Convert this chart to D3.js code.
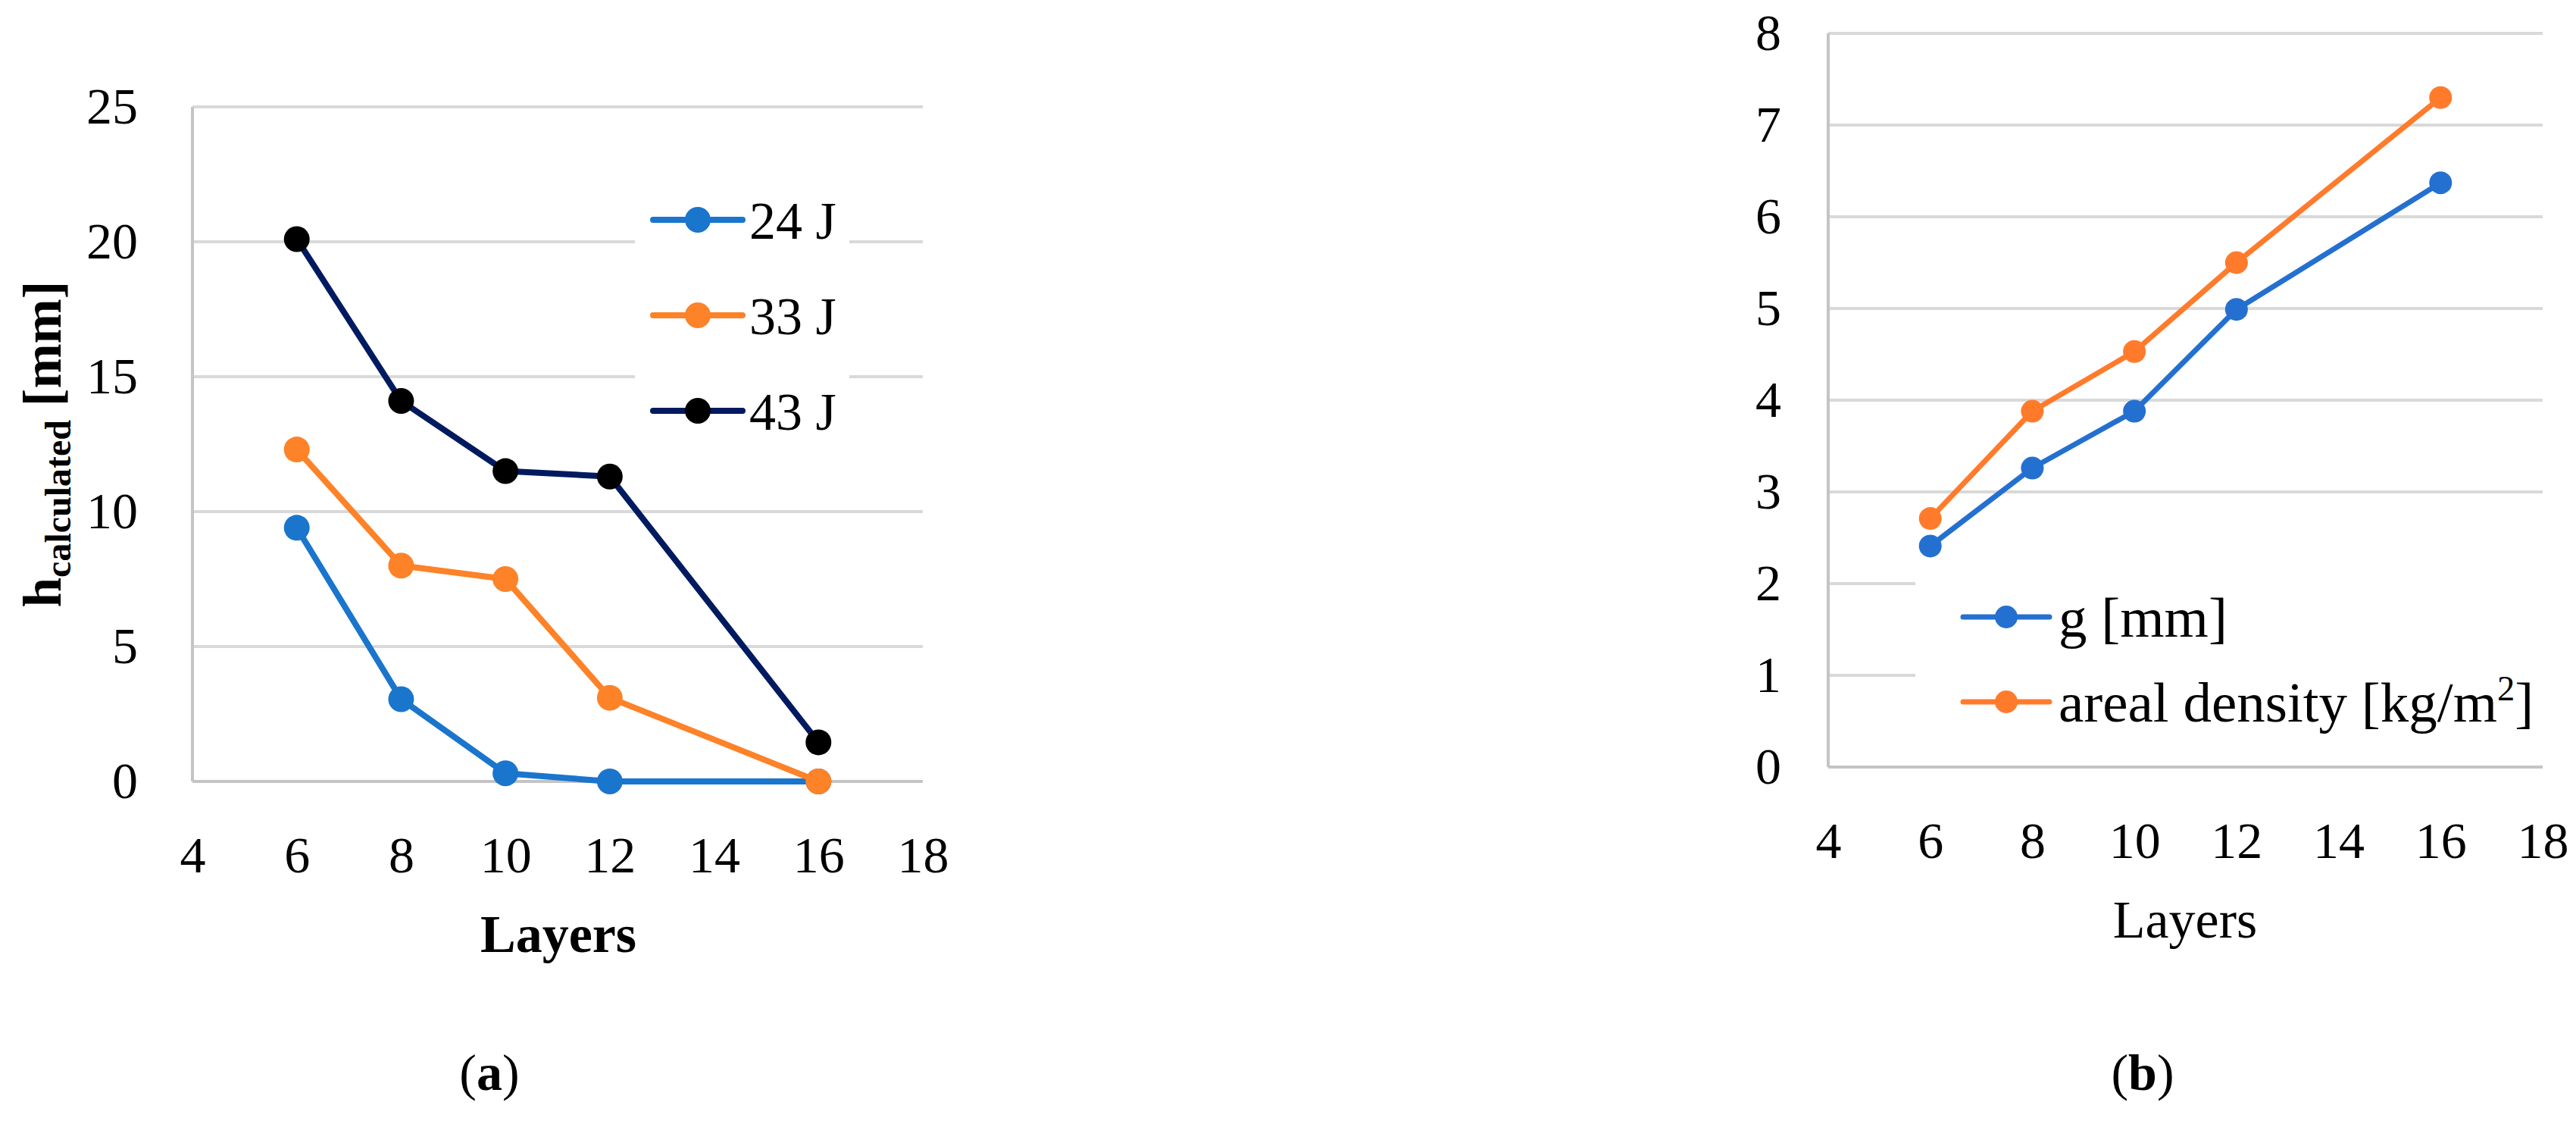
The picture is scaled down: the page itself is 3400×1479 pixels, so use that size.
<!DOCTYPE html>
<html><head><meta charset="utf-8">
<script src="https://cdn.jsdelivr.net/npm/d3@7/dist/d3.min.js"></script>
<style>
html,body{margin:0;padding:0;background:#fff;}
svg{display:block;}
text{font-family:"Liberation Serif","Times New Roman",serif;fill:#000;}
</style></head>
<body>
<svg id="c" width="3400" height="1479"></svg>
<script>
// ---- data ----
const layers = [6, 8, 10, 12, 16];
const h24J = [9.4, 3.05, 0.3, 0, 0];
const h33J = [12.3, 8.0, 7.5, 3.1, 0];
const h43J = [20.1, 14.1, 11.5, 11.3, 1.45];
const gMM = [2.41, 3.26, 3.88, 4.99, 6.37];
const arealDensity = [2.71, 3.88, 4.53, 5.50, 7.30];
const xTicks = [4, 6, 8, 10, 12, 14, 16, 18];
const yTicksA = [0, 5, 10, 15, 20, 25];
const yTicksB = [0, 1, 2, 3, 4, 5, 6, 7, 8];
const seriesA = [
  {name: "24 J", values: h24J, line: "#1a75cc", dot: "#1a75cc"},
  {name: "33 J", values: h33J, line: "#fd8228", dot: "#fd8228"},
  {name: "43 J", values: h43J, line: "#001a60", dot: "#000000"}
];
const seriesB = [
  {name: "g [mm]", values: gMM, line: "#2470d0", dot: "#2470d0"},
  {name: "areal density [kg/m", sup: "2", tail: "]", values: arealDensity, line: "#ff7b2b", dot: "#ff7b2b"}
];

const svg = d3.select("#c");
const GRID = "#d9d9d9", AX = "#c4c4c4";

function panel(opts) {
  const x = d3.scaleLinear().domain([4, 18]).range(opts.xr);
  const y = d3.scaleLinear().domain(opts.yd).range(opts.yr);
  const g = svg.append("g");
  // gridlines
  g.append("g").selectAll("line").data(opts.yTicks.filter(v => v !== 0)).join("line")
    .attr("x1", x(4)).attr("x2", x(18)).attr("y1", d => y(d)).attr("y2", d => y(d))
    .attr("stroke", GRID).attr("stroke-width", 4);
  // axis lines
  g.append("line").attr("x1", x(4)).attr("x2", x(4)).attr("y1", y(opts.yd[1])).attr("y2", y(0))
    .attr("stroke", AX).attr("stroke-width", 4);
  g.append("line").attr("x1", x(4)).attr("x2", x(18)).attr("y1", y(0)).attr("y2", y(0))
    .attr("stroke", AX).attr("stroke-width", 4);
  // axes labels
  const ya = g.append("g").attr("transform", `translate(${x(4)},0)`)
    .call(d3.axisLeft(y).tickValues(opts.yTicks).tickSize(0).tickPadding(opts.yPad).tickFormat(d3.format("d")));
  ya.select(".domain").remove();
  ya.selectAll("text").style("font-family", '"Liberation Serif",serif').style("font-size", opts.tickFs + "px").attr("fill", "#000");
  const xa = g.append("g").attr("transform", `translate(0,${y(0)})`)
    .call(d3.axisBottom(x).tickValues(xTicks).tickSize(0).tickPadding(opts.xPad).tickFormat(d3.format("d")));
  xa.select(".domain").remove();
  xa.selectAll("text").style("font-family", '"Liberation Serif",serif').style("font-size", opts.tickFs + "px").attr("fill", "#000");
  // legend background
  g.append("rect").attr("x", opts.legBox[0]).attr("y", opts.legBox[1])
    .attr("width", opts.legBox[2]).attr("height", opts.legBox[3]).attr("fill", "#fff");
  // legend
  opts.series.forEach((s, i) => {
    const ly = opts.legY[i];
    const lg = g.append("g");
    lg.append("line").attr("x1", opts.legX[0]).attr("x2", opts.legX[2]).attr("y1", ly).attr("y2", ly)
      .attr("stroke", s.line).attr("stroke-width", opts.lw).attr("stroke-linecap", "round");
    lg.append("circle").attr("cx", opts.legX[1]).attr("cy", ly).attr("r", opts.r).attr("fill", s.dot);
    const t = lg.append("text").attr("x", opts.legX[3]).attr("y", ly).attr("dy", "0.35em")
      .style("font-size", opts.legFs + "px").text(s.name);
    if (s.sup) {
      t.append("tspan").attr("dy", -opts.legFs * 0.38).style("font-size", (opts.legFs * 0.62) + "px").text(s.sup);
      t.append("tspan").attr("dy", opts.legFs * 0.38).text(s.tail);
    }
  });
  // series
  const line = d3.line().x((d, i) => x(layers[i])).y(d => y(d));
  opts.series.forEach(s => {
    g.append("path").datum(s.values).attr("d", line).attr("fill", "none")
      .attr("stroke", s.line).attr("stroke-width", opts.lw).attr("stroke-linejoin", "round");
    g.append("g").selectAll("circle").data(s.values).join("circle")
      .attr("cx", (d, i) => x(layers[i])).attr("cy", d => y(d)).attr("r", opts.r).attr("fill", s.dot);
  });
  return {x, y, g};
}

// Panel (a)
const A = panel({
  xr: [254, 1218], yd: [0, 25], yr: [1031, 141], yTicks: yTicksA,
  yPad: 72, xPad: 72, tickFs: 68,
  legBox: [838, 235, 283, 365], legX: [862, 921, 980, 989], legY: [290, 416, 542], legFs: 70,
  series: seriesA, lw: 8, r: 17
});
A.g.append("text").attr("x", 737).attr("y", 1256).attr("text-anchor", "middle")
  .style("font-size", "70px").style("font-weight", "bold").text("Layers");
const yt = A.g.append("text").attr("transform", "translate(80,586) rotate(-90)").attr("text-anchor", "middle")
  .style("font-size", "71px").style("font-weight", "bold");
yt.append("tspan").text("h");
yt.append("tspan").attr("dy", 13).style("font-size", "48px").text("calculated");
yt.append("tspan").attr("dy", -13).text(" [mm]");

// Panel (b)
const B = panel({
  xr: [2413, 3356], yd: [0, 8], yr: [1012, 44], yTicks: yTicksB,
  yPad: 62, xPad: 72, tickFs: 68,
  legBox: [2528, 700, 872, 298], legX: [2591, 2648, 2705, 2717], legY: [814, 926], legFs: 75,
  series: seriesB, lw: 7, r: 15
});
B.g.append("text").attr("x", 2884).attr("y", 1237).attr("text-anchor", "middle")
  .style("font-size", "70px").text("Layers");

// sub-figure labels
const la = svg.append("text").attr("x", 646).attr("y", 1438).attr("text-anchor", "middle").style("font-size", "68px");
la.append("tspan").text("(");
la.append("tspan").style("font-weight", "bold").text("a");
la.append("tspan").text(")");
const lb = svg.append("text").attr("x", 2828).attr("y", 1438).attr("text-anchor", "middle").style("font-size", "68px");
lb.append("tspan").text("(");
lb.append("tspan").style("font-weight", "bold").text("b");
lb.append("tspan").text(")");
</script>
</body></html>
